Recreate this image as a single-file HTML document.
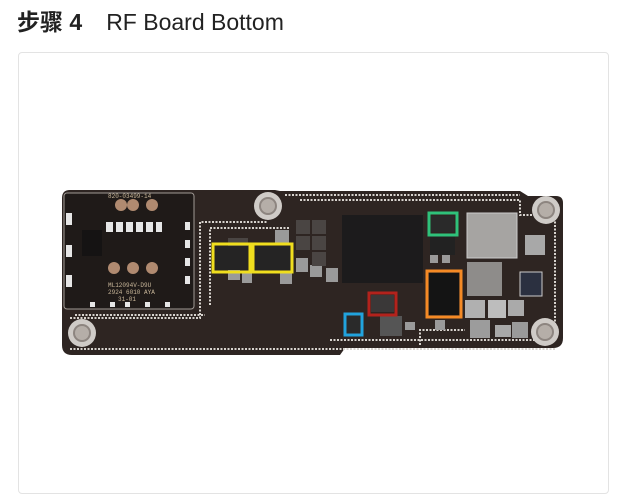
<!DOCTYPE html>
<html><head><meta charset="utf-8"><style>
html,body{margin:0;padding:0;background:#fff;width:619px;height:502px;overflow:hidden}
h1{position:absolute;left:17px;top:6px;margin:0;font:23px/32px "Liberation Sans","Noto Sans CJK SC",sans-serif;color:#222;font-weight:normal}
h1 b{font-weight:bold;margin-right:24px}
.card{position:absolute;left:18px;top:52px;width:591px;height:442px;border:1px solid #e3e3e3;border-radius:4px;box-sizing:border-box}
svg{position:absolute;left:0;top:0}
</style></head><body>
<h1><b>步骤 4</b>RF Board Bottom</h1>
<div class="card"></div>
<svg width="619" height="502" viewBox="0 0 619 502">
<path d="M70 190 L275 190 L280 191 L520 191 L528 196 L556 196 Q563 196 563 203 L563 338 Q563 348 553 348 L345 348 L340 355 L72 355 Q62 355 62 345 L62 198 Q62 190 70 190 Z" fill="#2e2522"/>
<g fill="none" stroke="#d8d4cf" stroke-width="2" stroke-dasharray="2 1.5">
<path d="M70 349 L555 349"/>
<path d="M285 195 L520 195"/>
<path d="M70 318 L200 318 L200 222 L268 222"/>
<path d="M75 315 L205 315"/>
<path d="M300 200 L520 200 L520 215 L555 215 L555 340"/>
<path d="M330 340 L555 340"/>
<path d="M210 305 L210 228 L290 228"/>
<path d="M420 345 L420 330 L465 330"/>
</g>
<rect x="64" y="193" width="130" height="116" rx="3" fill="#1f1a18" stroke="#a09a95" stroke-width="1"/>
<rect x="82" y="230" width="20" height="26" fill="#151313"/>
<g fill="#b08a70"><circle cx="121" cy="205" r="6"/><circle cx="133" cy="205" r="6"/><circle cx="152" cy="205" r="6"/><circle cx="114" cy="268" r="6"/><circle cx="133" cy="268" r="6"/><circle cx="152" cy="268" r="6"/></g>
<g fill="#e6e6e6"><rect x="106" y="222" width="7" height="10"/><rect x="116" y="222" width="7" height="10"/><rect x="126" y="222" width="7" height="10"/><rect x="136" y="222" width="7" height="10"/><rect x="146" y="222" width="7" height="10"/><rect x="156" y="222" width="6" height="10"/>
<rect x="66" y="213" width="6" height="12"/><rect x="66" y="245" width="6" height="12"/><rect x="66" y="275" width="6" height="12"/>
<rect x="185" y="222" width="5" height="8"/><rect x="185" y="240" width="5" height="8"/><rect x="185" y="258" width="5" height="8"/><rect x="185" y="276" width="5" height="8"/>
<rect x="90" y="302" width="5" height="5"/><rect x="110" y="302" width="5" height="5"/><rect x="125" y="302" width="5" height="5"/><rect x="145" y="302" width="5" height="5"/><rect x="165" y="302" width="5" height="5"/></g>
<text x="108" y="198" font-family="Liberation Mono,monospace" font-size="6" fill="#c9b79a">820-03499-14</text>
<text x="108" y="287" font-family="Liberation Mono,monospace" font-size="6" fill="#c9b79a">ML12094V-D9U</text>
<text x="108" y="294" font-family="Liberation Mono,monospace" font-size="6" fill="#c9b79a">2924 6010 AYA</text>
<text x="118" y="301" font-family="Liberation Mono,monospace" font-size="6" fill="#c9b79a">31-01</text>
<g fill="#9a9a9a">
<rect x="228" y="270" width="12" height="10"/><rect x="242" y="273" width="10" height="10"/><rect x="275" y="230" width="14" height="14"/><rect x="280" y="272" width="12" height="12"/>
<rect x="296" y="258" width="12" height="14"/><rect x="310" y="265" width="12" height="12"/><rect x="326" y="268" width="12" height="14"/>
<rect x="430" y="255" width="8" height="8"/><rect x="442" y="255" width="8" height="8"/><rect x="405" y="322" width="10" height="8"/><rect x="435" y="320" width="10" height="10"/>
</g>
<g fill="#4a4543"><rect x="296" y="220" width="14" height="14"/><rect x="312" y="220" width="14" height="14"/><rect x="296" y="236" width="14" height="14"/><rect x="312" y="236" width="14" height="14"/><rect x="312" y="252" width="14" height="14"/><rect x="228" y="238" width="20" height="8"/></g>
<rect x="342" y="215" width="81" height="68" fill="#1c1b1c"/>
<rect x="467" y="213" width="50" height="45" fill="#a6a4a2" stroke="#ccc" stroke-width="1"/>
<rect x="467" y="262" width="35" height="34" fill="#8e8c8a"/>
<rect x="525" y="235" width="20" height="20" fill="#a8a8a8"/>
<rect x="520" y="272" width="22" height="24" fill="#2b3040" stroke="#ccc"/>
<rect x="465" y="300" width="20" height="18" fill="#b0b0b0"/><rect x="488" y="300" width="18" height="18" fill="#bdbdbd"/><rect x="508" y="300" width="16" height="16" fill="#aaa"/>
<rect x="470" y="320" width="20" height="18" fill="#9c9c9c"/><rect x="495" y="325" width="16" height="12" fill="#a8a8a8"/><rect x="512" y="322" width="16" height="16" fill="#9a9a9a"/>
<rect x="430" y="235" width="25" height="20" fill="#222"/>
<rect x="380" y="316" width="22" height="20" fill="#555"/>
<rect x="215" y="246" width="33" height="24" fill="#252424"/>
<rect x="255" y="246" width="35" height="24" fill="#252424"/>
<rect x="429" y="273" width="30" height="42" fill="#141414"/>
<rect x="371" y="295" width="23" height="17" fill="#3a3838"/>
<rect x="347" y="316" width="13" height="17" fill="#2a2a2a"/>
<rect x="431" y="216" width="23" height="16" fill="#2a2a2a"/>
<g fill="none" stroke-width="3">
<rect x="213" y="244" width="37" height="28" stroke="#f0de1e"/>
<rect x="253" y="244" width="39" height="28" stroke="#f0de1e"/>
<rect x="429" y="213" width="28" height="22" stroke="#2fc17a"/>
<rect x="427" y="271" width="34" height="46" stroke="#f58a25"/>
<rect x="369" y="293" width="27" height="22" stroke="#b3221c"/>
<rect x="345" y="314" width="17" height="21" stroke="#21a3dd"/>
</g>
<g><circle cx="268" cy="206" r="14" fill="#cfcbc7"/><circle cx="268" cy="206" r="9" fill="#8d8580"/><circle cx="268" cy="206" r="7" fill="#b5aea8"/>
<circle cx="82" cy="333" r="14" fill="#cfcbc7"/><circle cx="82" cy="333" r="9" fill="#8d8580"/><circle cx="82" cy="333" r="7" fill="#b5aea8"/>
<circle cx="546" cy="210" r="14" fill="#cfcbc7"/><circle cx="546" cy="210" r="9" fill="#8d8580"/><circle cx="546" cy="210" r="7" fill="#b5aea8"/>
<circle cx="545" cy="332" r="14" fill="#cfcbc7"/><circle cx="545" cy="332" r="9" fill="#8d8580"/><circle cx="545" cy="332" r="7" fill="#b5aea8"/></g>
</svg>
</body></html>
